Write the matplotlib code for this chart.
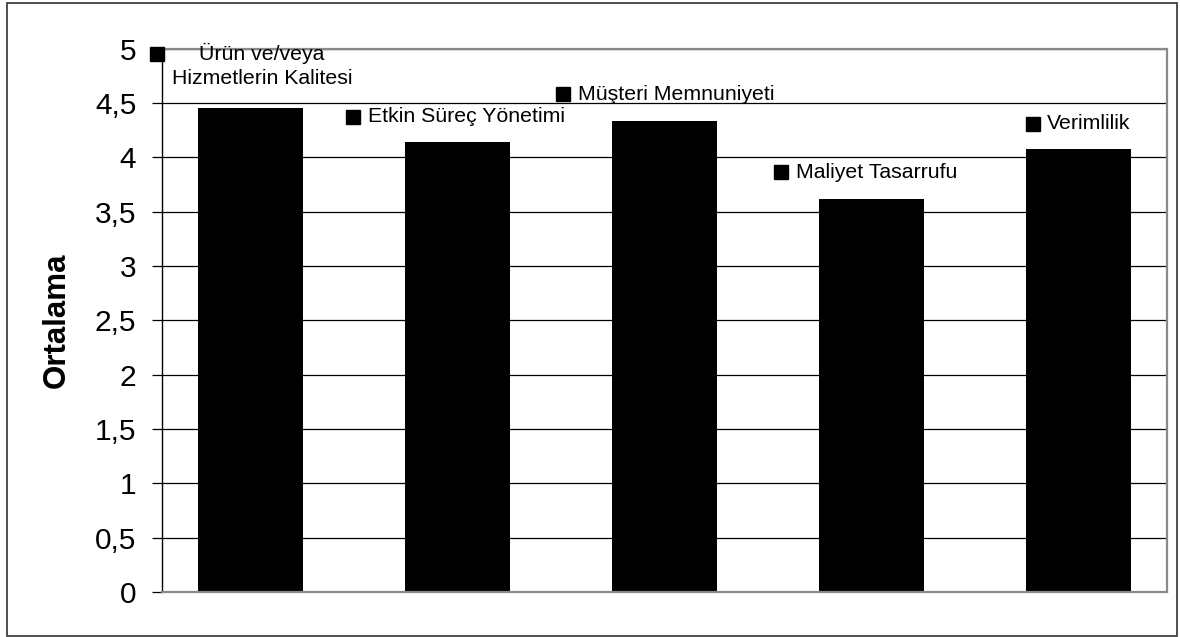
import matplotlib
matplotlib.use("Agg")
import matplotlib.pyplot as plt
from matplotlib.patches import Rectangle
from matplotlib.ticker import FuncFormatter, MultipleLocator

plt.rcParams['font.family'] = ['Liberation Sans', 'DejaVu Sans']

# kategoriler ve ortalama puanlar
categories = ['Ürün ve/veya\nHizmetlerin Kalitesi', 'Etkin Süreç Yönetimi',
              'Müşteri Memnuniyeti', 'Maliyet Tasarrufu', 'Verimlilik']
means = [4.45, 4.14, 4.33, 3.62, 4.08]

# etiket kutucuklarinin yerleri (veri koordinati) ve yazi kaydirmalari (pt)
label_x = [-0.454, 0.497, 1.512, 2.565, 3.778]
label_y = [4.954, 4.37, 4.58, 3.86, 4.31]
text_dx = [11, 10.5, 10.5, 10.5, 10.5]
text_dy = [-8.5, 0, 0, 0, 0]

fig = plt.figure(figsize=(11.8, 6.37), dpi=100)
ax = fig.add_axes([162 / 1180, 1 - 592 / 637, 1005 / 1180, (592 - 48.5) / 637])

x = range(len(means))
ax.bar(x, means, width=0.507, color='black', zorder=2)

ax.set_xlim(-0.4275, 4.4275)
ax.set_ylim(0, 5)
ax.yaxis.set_major_locator(MultipleLocator(0.5))
ax.yaxis.set_major_formatter(FuncFormatter(lambda v, p: ('%g' % v).replace('.', ',')))
ax.yaxis.grid(True, color='black', lw=0.9, zorder=1)
ax.set_axisbelow(True)
ax.set_xticks([])
ax.tick_params(axis='y', direction='out', length=7, width=0.9, pad=11.5,
               labelsize=21.5, color='black')

ax.spines['left'].set_color('black')
ax.spines['left'].set_linewidth(1.0)
for s in ['top', 'right', 'bottom']:
    ax.spines[s].set_color('#8a8a8a')
    ax.spines[s].set_linewidth(1.6)
    ax.spines[s].set_zorder(3)

ax.set_ylabel('Ortalama', fontsize=22.5, fontweight='bold')
ax.yaxis.set_label_coords(-90 / 1005, 0.5)

for i in range(len(categories)):
    ax.plot(label_x[i], label_y[i], marker='s', markersize=9.5, color='black',
            clip_on=False, zorder=5)
    ax.annotate(categories[i], xy=(label_x[i], label_y[i]),
                xytext=(text_dx[i], text_dy[i]), textcoords='offset points',
                ha='left', va='center', multialignment='center',
                linespacing=1.35, fontsize=15.3, annotation_clip=False, zorder=5)

fig.add_artist(Rectangle((7 / 1180, 1 / 637), 1170 / 1180, 633 / 637,
                         transform=fig.transFigure, fill=False,
                         ec='#404040', lw=1.3))

fig.savefig('out.png', dpi=100)
